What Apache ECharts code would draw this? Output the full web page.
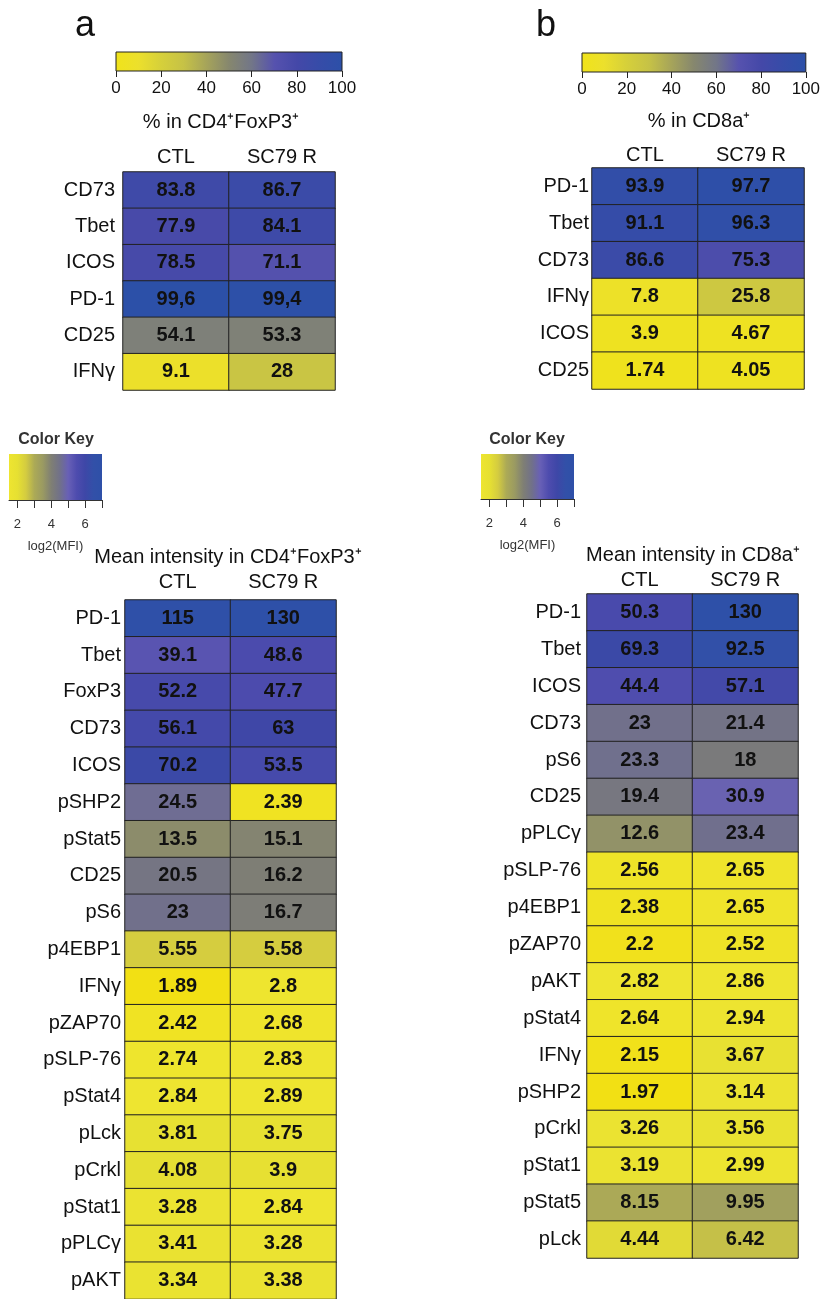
<!DOCTYPE html>
<html>
<head>
<meta charset="utf-8">
<script src="https://cdn.jsdelivr.net/npm/echarts@6/dist/echarts.min.js"></script>
<style>
  html, body { margin: 0; padding: 0; background: #fff; }
  #main { width: 823px; height: 1299px; }
</style>
</head>
<body>
<div id="main"></div>
<script>
// columns
var groups = ['CTL', 'SC79 R'];

// % positive cells (text kept as printed)
var pctCd4Rows = ['CD73', 'Tbet', 'ICOS', 'PD-1', 'CD25', 'IFNγ'];
var pctCd4Ctl = ['83.8', '77.9', '78.5', '99,6', '54.1', '9.1'];
var pctCd4Sc79 = ['86.7', '84.1', '71.1', '99,4', '53.3', '28'];

var pctCd8Rows = ['PD-1', 'Tbet', 'CD73', 'IFNγ', 'ICOS', 'CD25'];
var pctCd8Ctl = ['93.9', '91.1', '86.6', '7.8', '3.9', '1.74'];
var pctCd8Sc79 = ['97.7', '96.3', '75.3', '25.8', '4.67', '4.05'];

// mean fluorescence intensity
var mfiCd4Rows = ['PD-1', 'Tbet', 'FoxP3', 'CD73', 'ICOS', 'pSHP2', 'pStat5', 'CD25', 'pS6', 'p4EBP1',
    'IFNγ', 'pZAP70', 'pSLP-76', 'pStat4', 'pLck', 'pCrkl', 'pStat1', 'pPLCγ', 'pAKT'];
var mfiCd4Ctl = ['115', '39.1', '52.2', '56.1', '70.2', '24.5', '13.5', '20.5', '23', '5.55',
    '1.89', '2.42', '2.74', '2.84', '3.81', '4.08', '3.28', '3.41', '3.34'];
var mfiCd4Sc79 = ['130', '48.6', '47.7', '63', '53.5', '2.39', '15.1', '16.2', '16.7', '5.58',
    '2.8', '2.68', '2.83', '2.89', '3.75', '3.9', '2.84', '3.28', '3.38'];

var mfiCd8Rows = ['PD-1', 'Tbet', 'ICOS', 'CD73', 'pS6', 'CD25', 'pPLCγ', 'pSLP-76', 'p4EBP1', 'pZAP70',
    'pAKT', 'pStat4', 'IFNγ', 'pSHP2', 'pCrkl', 'pStat1', 'pStat5', 'pLck'];
var mfiCd8Ctl = ['50.3', '69.3', '44.4', '23', '23.3', '19.4', '12.6', '2.56', '2.38', '2.2',
    '2.82', '2.64', '2.15', '1.97', '3.26', '3.19', '8.15', '4.44'];
var mfiCd8Sc79 = ['130', '92.5', '57.1', '21.4', '18', '30.9', '23.4', '2.65', '2.65', '2.52',
    '2.86', '2.94', '3.67', '3.14', '3.56', '2.99', '9.95', '6.42'];

// colour scales
var pctColors = ['#f0e31a', '#ece02c', '#d6d03a', '#c6c246', '#a6a45a', '#86876e',
    '#727688', '#5652ae', '#4448a8', '#364ca8', '#2c50a8'];   // 0..100 every 10
var mfiColors = ['#f2e014', '#eee530', '#e6e032', '#d4cc40', '#acaa56', '#9a9a62', '#7f7f74',
    '#717189', '#6860b6', '#4e4cae', '#3e47a7', '#3250a8', '#2e50a8'];  // log2 1..7 every 0.5
var keyTicks = [2, 3, 4, 5, 6, 7];
var keyLabels = [2, 4, 6];

var FONT = '"Liberation Sans", Arial, sans-serif';
var INK = '#111';

function num(s) { return parseFloat(String(s).replace(',', '.')); }
function pctVal(s) { return num(s); }
function mfiVal(s) { return Math.max(1, Math.min(7, Math.log2(num(s)))); }

function cells(ctl, sc79, fn) {
    var out = [];
    ctl.forEach(function (t, i) { out.push([0, i, fn(t), t]); });
    sc79.forEach(function (t, i) { out.push([1, i, fn(t), t]); });
    return out;
}

function gradient(colors, from) {
    var list = colors.slice(from || 0);
    return {
        type: 'linear', x: 0, y: 0, x2: 1, y2: 0,
        colorStops: list.map(function (c, i) { return { offset: i / (list.length - 1), color: c }; })
    };
}

var chart = echarts.init(document.getElementById('main'));

// heatmap grids: top-left, top-right, bottom-left, bottom-right
var heatGrids = [
    { left: 123, top: 172, width: 212, height: 218 },
    { left: 592, top: 168, width: 212, height: 221 },
    { left: 125, top: 600, width: 211, height: 700 },
    { left: 587, top: 594, width: 211, height: 664 }
];
var colMargin = [5, 3, 8, 4];
var rowMargin = [8, 3, 4, 6];
var rowSets = [pctCd4Rows, pctCd8Rows, mfiCd4Rows, mfiCd8Rows];

var grids = heatGrids.slice();
// colour bars (% scale) and colour keys (log2 MFI)
grids.push({ left: 116, top: 52, width: 226, height: 19, show: true, backgroundColor: gradient(pctColors), borderColor: '#222', borderWidth: 1 });
grids.push({ left: 582, top: 53, width: 225, height: 19, show: true, backgroundColor: gradient(pctColors), borderColor: '#222', borderWidth: 1 });
grids.push({ left: 9, top: 454, width: 93, height: 46, show: true, backgroundColor: gradient(mfiColors, 1), borderWidth: 0 });
grids.push({ left: 481, top: 454, width: 93, height: 45, show: true, backgroundColor: gradient(mfiColors, 1), borderWidth: 0 });

var xAxes = [], yAxes = [];
heatGrids.forEach(function (g, i) {
    xAxes.push({
        gridIndex: i, type: 'category', position: 'top', data: groups,
        axisLine: { show: false }, axisTick: { show: false }, splitLine: { show: false },
        axisLabel: { fontSize: 20, color: INK, margin: colMargin[i], fontFamily: FONT }
    });
    yAxes.push({
        gridIndex: i, type: 'category', inverse: true, data: rowSets[i],
        axisLine: { show: false }, axisTick: { show: false }, splitLine: { show: false },
        axisLabel: { fontSize: 20, color: INK, margin: rowMargin[i], fontFamily: FONT }
    });
});
[4, 5].forEach(function (gi) {
    xAxes.push({
        gridIndex: gi, type: 'value', min: 0, max: 100, interval: 20,
        axisLine: { show: false }, splitLine: { show: false },
        axisTick: { show: true, length: 6, lineStyle: { color: '#222' } },
        axisLabel: { fontSize: 17, color: INK, margin: 9, fontFamily: FONT }
    });
    yAxes.push({ gridIndex: gi, type: 'value', show: false });
});
[6, 7].forEach(function (gi) {
    xAxes.push({
        gridIndex: gi, type: 'value', min: 1.5, max: 7,
        name: 'log2(MFI)', nameLocation: 'middle', nameGap: 40,
        nameTextStyle: { fontSize: 13, color: '#333', fontFamily: FONT },
        axisLine: { show: true, lineStyle: { color: '#333', width: 1 } },
        splitLine: { show: false },
        axisTick: { show: true, length: 8, customValues: keyTicks, lineStyle: { color: '#333' } },
        axisLabel: { fontSize: 13, color: '#333', margin: 18, customValues: keyLabels, fontFamily: FONT }
    });
    yAxes.push({ gridIndex: gi, type: 'value', show: false });
});

function heatSeries(idx, data) {
    return {
        type: 'heatmap', xAxisIndex: idx, yAxisIndex: idx, data: data,
        itemStyle: { borderColor: '#222', borderWidth: 1 },
        label: {
            show: true, fontSize: 20, fontWeight: 'bold', color: INK, fontFamily: FONT,
            formatter: function (p) { return p.data[3]; }
        },
        emphasis: { disabled: true }
    };
}

function title(text, x, y, size, weight, color) {
    return {
        text: text, left: x, top: y, textAlign: 'center', padding: 0,
        textStyle: { fontSize: size, fontWeight: weight || 'normal', color: color || INK, fontFamily: FONT }
    };
}

var option = {
    backgroundColor: '#fff',
    animation: false,
    textStyle: { fontFamily: FONT },
    title: [
        title('a', 85, 8, 36),
        title('b', 546, 8, 36),
        title('% in CD4⁺FoxP3⁺', 221, 112, 20),
        title('% in CD8a⁺', 699, 111, 20),
        title('Mean intensity in CD4⁺FoxP3⁺', 228, 547, 20),
        title('Mean intensity in CD8a⁺', 693, 545, 20),
        title('Color Key', 56, 432, 16, 'bold', '#333'),
        title('Color Key', 527, 432, 16, 'bold', '#333')
    ],
    grid: grids,
    xAxis: xAxes,
    yAxis: yAxes,
    visualMap: [
        { type: 'continuous', show: false, min: 0, max: 100, dimension: 2, seriesIndex: [0, 1], inRange: { color: pctColors } },
        { type: 'continuous', show: false, min: 1, max: 7, dimension: 2, seriesIndex: [2, 3], inRange: { color: mfiColors } }
    ],
    series: [
        heatSeries(0, cells(pctCd4Ctl, pctCd4Sc79, pctVal)),
        heatSeries(1, cells(pctCd8Ctl, pctCd8Sc79, pctVal)),
        heatSeries(2, cells(mfiCd4Ctl, mfiCd4Sc79, mfiVal)),
        heatSeries(3, cells(mfiCd8Ctl, mfiCd8Sc79, mfiVal))
    ]
};

chart.setOption(option);
</script>
</body>
</html>
